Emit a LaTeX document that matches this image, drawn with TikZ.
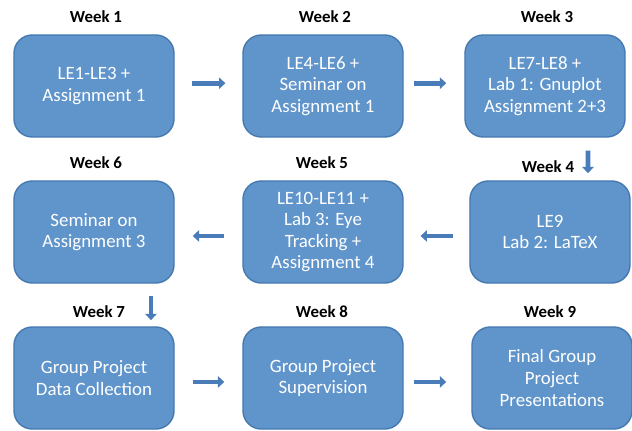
\documentclass[tikz,border=0pt]{standalone}
\usepackage{fontspec}
\setmainfont{Carlito}
\usetikzlibrary{arrows.meta}
\definecolor{boxfill}{RGB}{96,149,204}
\definecolor{boxline}{RGB}{70,121,176}
\definecolor{arrowblue}{RGB}{74,124,185}
\begin{document}
\begin{tikzpicture}[x=0.025cm, y=-0.025cm]
    % Define style for cell
    \tikzstyle{cell} = [draw=boxline, line width=1pt, rectangle, minimum width=4cm, minimum height=2.55cm, fill=boxfill, rounded corners=13pt, text=white, align=center, font=\fontsize{13.4}{15.4}\selectfont]
    \tikzstyle{week} = [font=\bfseries\fontsize{12}{14}\selectfont]
    \tikzstyle{flow} = [arrowblue, line width=3.4pt, -{Triangle[length=4.5pt,width=8pt]}]

    \useasboundingbox (0,0) rectangle (632,430);

    % Draw the boxes
    \foreach \id/\x/\y/\txt in {1/94/86/{LE1-LE3 +\\Assignment 1},
                                2/323/86/{LE4-LE6 +\\Seminar on\\Assignment 1},
                                3/545/86/{LE7-LE8 +\\Lab 1: Gnuplot\\Assignment 2+3},
                                4/550/232/{LE9\\Lab 2: LaTeX},
                                5/323/232/{LE10-LE11 +\\Lab 3: Eye\\Tracking +\\Assignment 4},
                                6/94/232/{Seminar on\\Assignment 3},
                                7/94/378/{Group Project\\Data Collection},
                                8/323/378/{Group Project\\Supervision},
                                9/552/378/{Final Group\\Project\\Presentations}} {
        \node(w\id)[cell] at (\x,\y) {\txt};
      }

    % Week labels
    \foreach \id/\x/\y in {1/96/17, 2/325/17, 3/547/17, 4/548/167, 5/322/163,
                           6/96/163, 7/99/312, 8/322/312, 9/550/312} {
        \node(l\id)[week] at (\x,\y) {Week \id};
      }

    % Arrows
    \draw[flow, shorten <=12pt, shorten >=12pt] ([yshift=2pt]w1.east) -- ([yshift=2pt]w2.west);
    \draw[flow, shorten <=7pt, shorten >=12.8pt] ([yshift=2pt]w2.east) -- ([yshift=2pt]w3.west);
    \draw[flow, shorten <=9.2pt, shorten >=5pt] ([xshift=30.6pt]w3.south) -- ([xshift=27pt]w4.north);
    \draw[flow, shorten <=11.4pt, shorten >=12pt] ([yshift=-2.8pt]w4.west) -- ([yshift=-2.8pt]w5.east);
    \draw[flow, shorten <=12.8pt, shorten >=12.8pt] ([yshift=-2.8pt]w5.west) -- ([yshift=-2.8pt]w6.east);
    \draw[flow, shorten <=8.5pt, shorten >=4.3pt] ([xshift=40.5pt]w6.south) -- ([xshift=40.5pt]w7.north);
    \draw[flow, shorten <=12.8pt, shorten >=12.8pt] ([yshift=-2.8pt]w7.east) -- ([yshift=-2.8pt]w8.west);
    \draw[flow, shorten <=7pt, shorten >=17.8pt] ([yshift=-2.8pt]w8.east) -- ([yshift=-2.8pt]w9.west);
  \end{tikzpicture}
\end{document}
